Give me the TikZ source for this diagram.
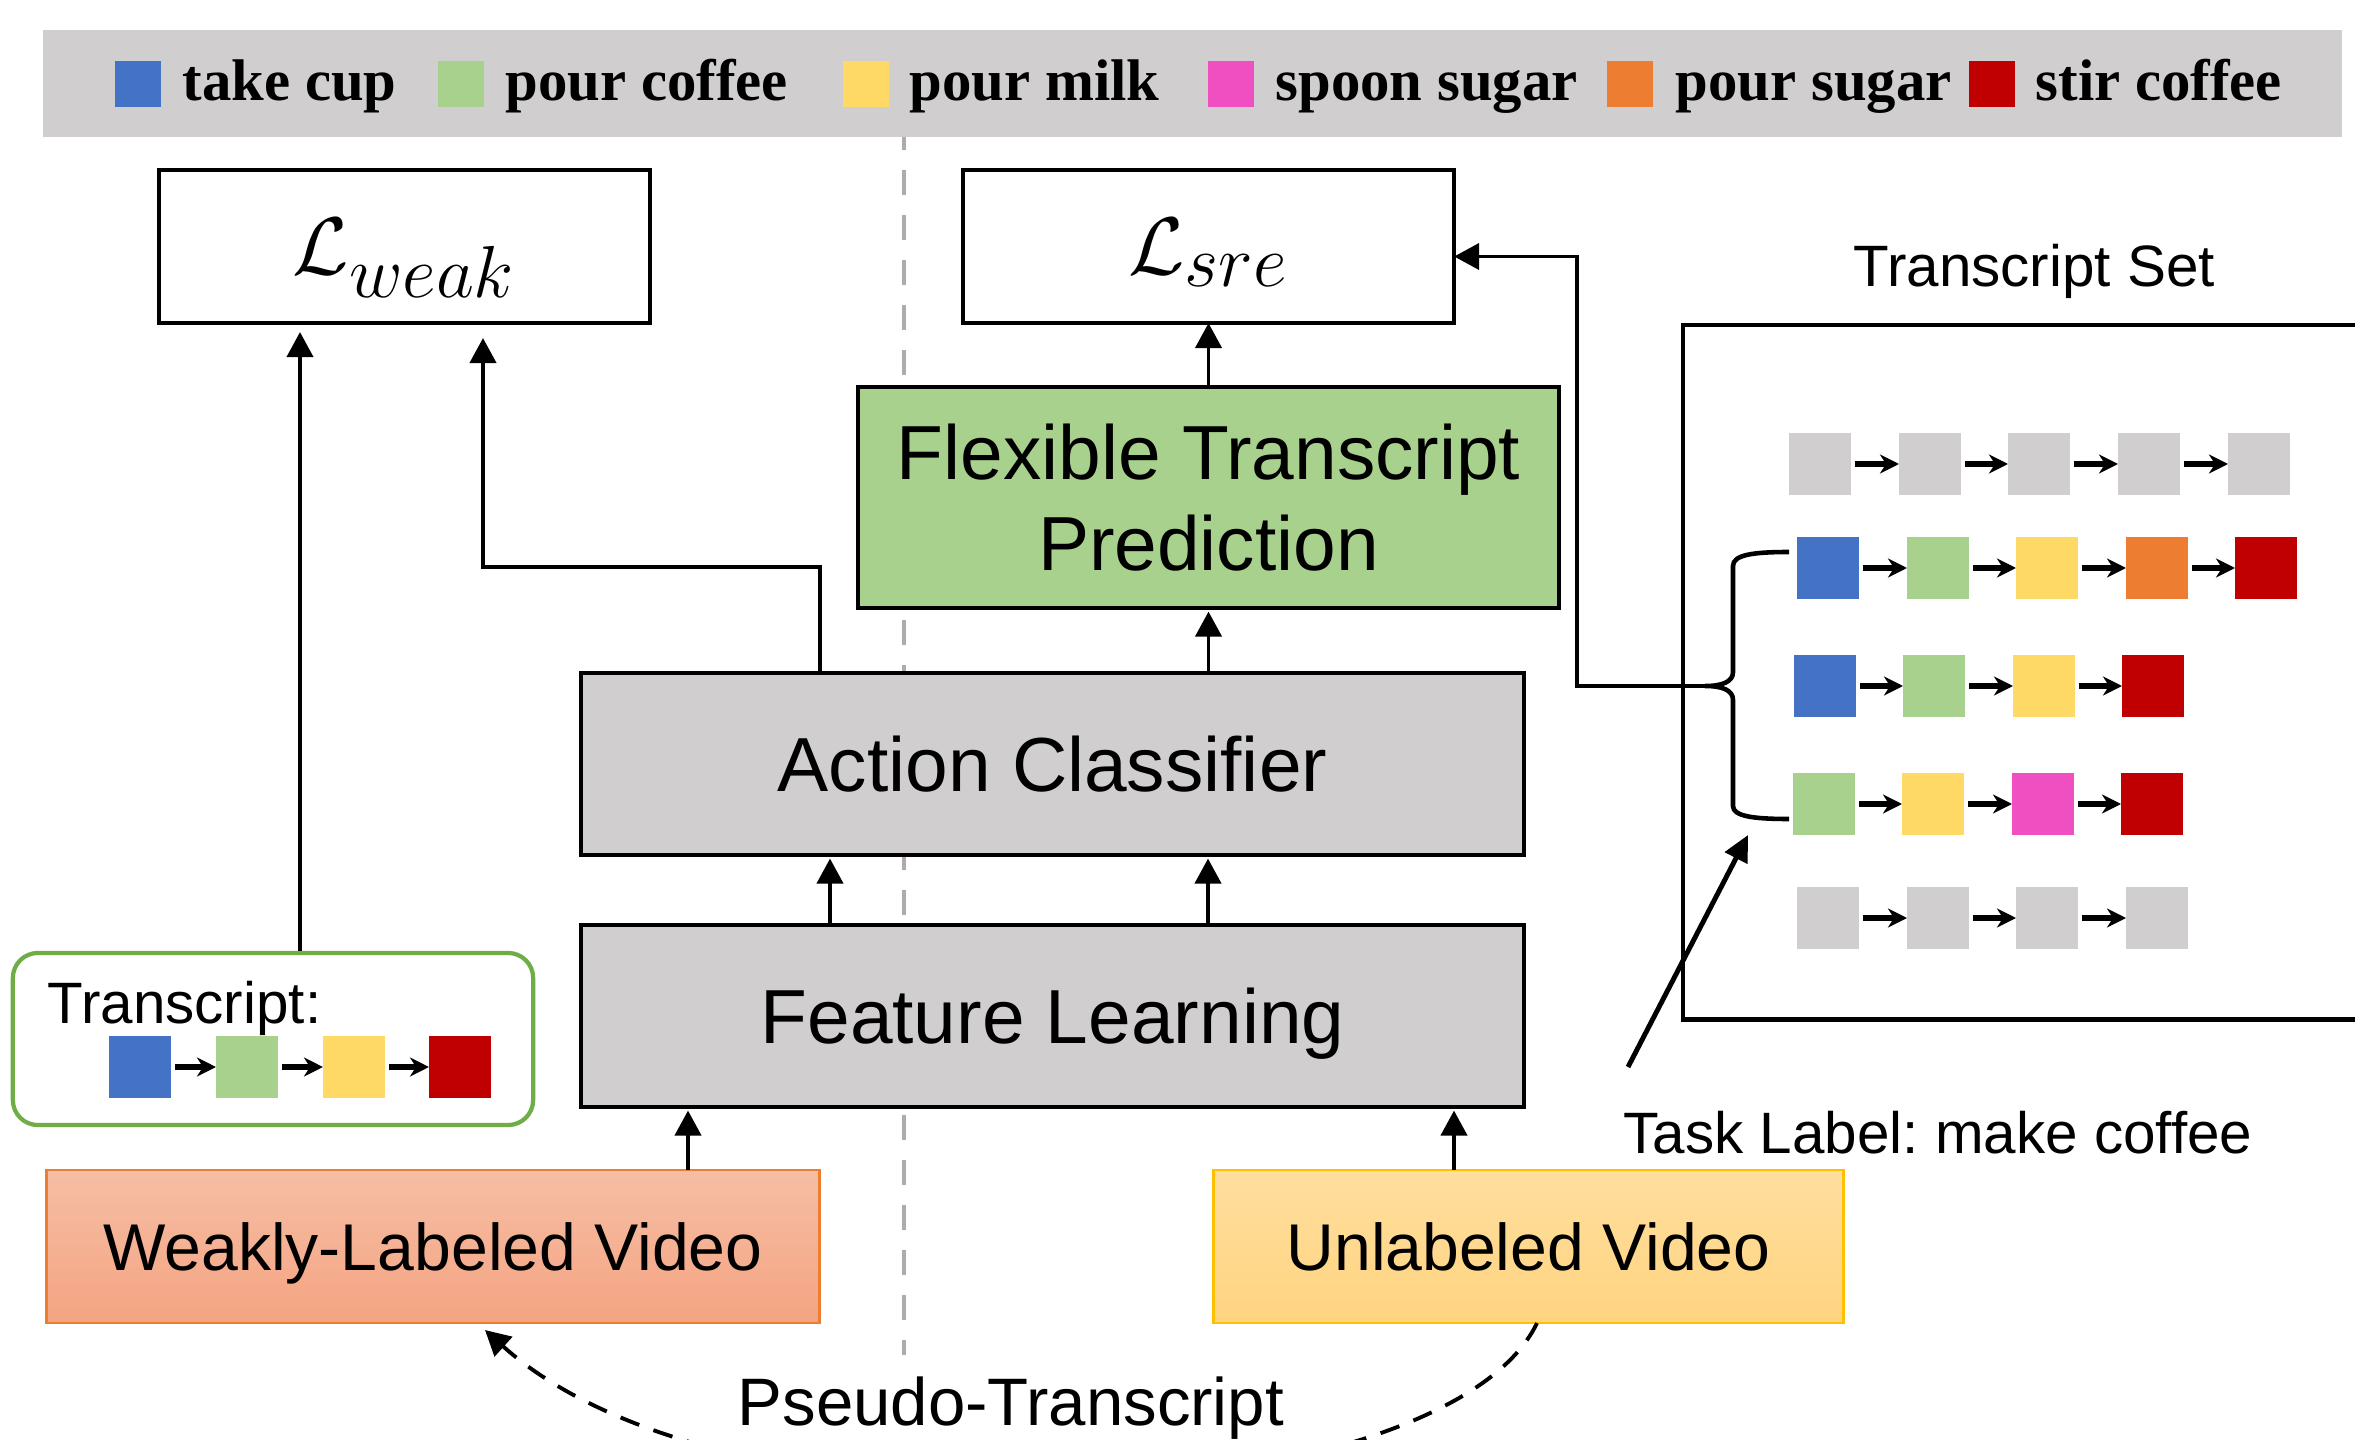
\documentclass[tikz,border=0pt]{standalone}
\usepackage{fontspec}
\setmainfont{Liberation Sans}
\newfontfamily\legfont{Liberation Serif}
\usetikzlibrary{arrows.meta,calc}
\frenchspacing
\definecolor{gfill}{HTML}{D0CECE}
\definecolor{cblue}{HTML}{4472C4}
\definecolor{cgreen}{HTML}{A9D18E}
\definecolor{cyellow}{HTML}{FFD966}
\definecolor{cpink}{HTML}{F04FC2}
\definecolor{corange}{HTML}{ED7D31}
\definecolor{cred}{HTML}{C00000}
\definecolor{tgreen}{HTML}{70AD47}
\definecolor{sepgray}{HTML}{AFABAB}
\definecolor{gold}{HTML}{FFC000}
\definecolor{wtop}{RGB}{246,190,165}
\definecolor{wbot}{RGB}{244,164,129}
\definecolor{utop}{RGB}{255,222,158}
\definecolor{ubot}{RGB}{255,212,128}
\newcommand{\lossname}[1]{\scalebox{1.12}{$\mathcal{L}_{\scalebox{1.3}{$\scriptstyle #1$}}$}}
\begin{document}
\begin{tikzpicture}[x=0.01cm,y=-0.01cm,
  box/.style={draw=black, line width=1.2pt, inner sep=0pt, outer sep=0pt, align=center, text depth=0pt},
  bigfont/.style={font=\fontsize{21.8}{26}\selectfont},
  vidfont/.style={font=\fontsize{18.8}{22}\selectfont},
  labfont/.style={font=\fontsize{16.6}{20}\selectfont},
  legtext/.style={anchor=base west, inner sep=0pt, font=\legfont\bfseries\fontsize{16.7}{20}\selectfont},
  lsq/.style={minimum size=0.46cm, inner sep=0pt, outer sep=0pt},
  sq/.style={minimum size=0.62cm, inner sep=0pt, outer sep=0pt},
  arr/.style={line width=1.1pt, -{Triangle[width=7.4pt,length=7.1pt]}},
  sarr/.style={line width=1.9pt, -{Stealth[width=5.4pt,length=5.4pt,inset=1.7pt]}, shorten <=1.2pt},
  sepline/.style={sepgray, line width=1.3pt, dash pattern=on 7.1pt off 5.7pt}
]
\useasboundingbox (0,0) rectangle (2355,1440);
\clip (0,0) rectangle (2355,1440);
\fill[white] (0,0) rectangle (2355,1440);

% separator
\coordinate (sepA) at (904,125);
\coordinate (sepB) at (904,1355);
\draw[sepline] (sepA) -- (sepB);

% legend
\node[fill=gfill, minimum width=22.97cm, minimum height=1.07cm, inner sep=0pt] (bar) at (1192.5,83.5) {};
\node[lsq,fill=cblue] (k1) at (138,84) {};
\node[legtext] (t1) at (182,101) {take cup};
\node[lsq,fill=cgreen] (k2) at (461,84) {};
\node[legtext] (t2) at (505,101) {pour coffee};
\node[lsq,fill=cyellow] (k3) at (866,84) {};
\node[legtext] (t3) at (909,101) {pour milk};
\node[lsq,fill=cpink] (k4) at (1231,84) {};
\node[legtext] (t4) at (1275,101) {spoon sugar};
\node[lsq,fill=corange] (k5) at (1630,84) {};
\node[legtext] (t5) at (1675,101) {pour sugar};
\node[lsq,fill=cred] (k6) at (1992,84) {};
\node[legtext] (t6) at (2035,101) {stir coffee};

% main boxes
\node[box, fill=white, minimum width=4.91cm, minimum height=1.53cm] (lweak) at (404.5,246.5) {\fontsize{22}{26}\selectfont\lossname{weak}};
\node[box, fill=white, minimum width=4.91cm, minimum height=1.53cm] (lsre) at (1208.5,246.5) {\fontsize{22}{26}\selectfont\lossname{sre}};
\node[box, bigfont, fill=cgreen, minimum width=7.01cm, minimum height=2.21cm] (ftp) at (1208.5,497.5) {Flexible Transcript\\Prediction};
\node[box, bigfont, fill=gfill, minimum width=9.43cm, minimum height=1.82cm] (ac) at (1052.5,764) {Action Classifier};
\node[box, bigfont, fill=gfill, minimum width=9.43cm, minimum height=1.82cm] (fl) at (1052.5,1016) {Feature Learning};
\node[box, vidfont, draw=corange, line width=0.8pt, top color=wtop, bottom color=wbot, minimum width=7.72cm, minimum height=1.53cm] (wl) at (433,1246.5) {Weakly-Labeled Video};
\node[box, vidfont, draw=gold, line width=0.8pt, top color=utop, bottom color=ubot, minimum width=6.29cm, minimum height=1.53cm] (ul) at (1528.5,1246.5) {Unlabeled Video};

% transcript box
\node[draw=tgreen, line width=1.2pt, rounded corners=0.25cm, minimum width=5.20cm, minimum height=1.72cm, inner sep=0pt] (tbox) at (273,1039) {};
\node[labfont, anchor=base west, inner sep=0pt] (tlab) at (47,1023) {Transcript:};
\node[sq, fill=cblue] (ts1) at (140,1067) {};
\node[sq, fill=cgreen] (ts2) at (247,1067) {};
\node[sq, fill=cyellow] (ts3) at (354,1067) {};
\node[sq, fill=cred] (ts4) at (460,1067) {};
\foreach \i in {1,2,3} {\pgfmathtruncatemacro{\j}{\i+1}\draw[sarr] (ts\i) -- (ts\j);}

% transcript set
\node[labfont, anchor=base west, inner sep=0pt] (tsl) at (1853,287) {Transcript Set};
\node[draw=black, line width=1.2pt, anchor=north west, minimum width=8cm, minimum height=6.94cm, inner sep=0pt] (tset) at (1681,323) {};

\foreach \i/\x in {1/1820,2/1930,3/2039,4/2149,5/2259} \node[sq, fill=gfill] (ra\i) at (\x,464) {};
\foreach \i/\x/\c in {1/1828/cblue,2/1938/cgreen,3/2047/cyellow,4/2157/corange,5/2266/cred} \node[sq, fill=\c] (rb\i) at (\x,568) {};
\foreach \i/\x/\c in {1/1825/cblue,2/1934/cgreen,3/2044/cyellow,4/2153/cred} \node[sq, fill=\c] (rc\i) at (\x,686) {};
\foreach \i/\x/\c in {1/1824/cgreen,2/1933/cyellow,3/2043/cpink,4/2152/cred} \node[sq, fill=\c] (rd\i) at (\x,804) {};
\foreach \i/\x in {1/1828,2/1938,3/2047,4/2157} \node[sq, fill=gfill] (re\i) at (\x,918) {};
\foreach \i in {1,2,3,4} {\pgfmathtruncatemacro{\j}{\i+1}\draw[sarr] (ra\i) -- (ra\j); \draw[sarr] (rb\i) -- (rb\j);}
\foreach \i in {1,2,3} {\pgfmathtruncatemacro{\j}{\i+1}\draw[sarr] (rc\i) -- (rc\j); \draw[sarr] (rd\i) -- (rd\j); \draw[sarr] (re\i) -- (re\j);}

% brace
\coordinate (bt) at (1705,686);
\draw[line width=1.3pt] (1789,552) .. controls (1752,552) and (1733,555) .. (1733,566) -- (1733,672) .. controls (1733,682) and (1722,686) .. (bt) .. controls (1722,686) and (1733,690) .. (1733,700) -- (1733,806) .. controls (1733,816) and (1752,819) .. (1789,819);
\draw[arr] (bt) -| ($(lsre.east)+(123,10)$) -- ($(lsre.east)+(0,10)$);

% task label
\node[labfont, anchor=base west, inner sep=0pt] (task) at (1623,1153) {Task Label: make coffee};
\coordinate (p0) at (1628,1067);
\coordinate (p1) at (1748,835);
\draw[line width=1.4pt, -{Triangle[width=7pt,length=7.4pt]}] (p0) -- (p1);

% arrows main
\coordinate (w1) at ($(wl.north)+(255,0)$);
\draw[arr, shorten >=1pt] (w1) -- (w1 |- fl.south);
\coordinate (u1) at ($(ul.north)+(-74.5,0)$);
\draw[arr, shorten >=1pt] (u1) -- (u1 |- fl.south);
\coordinate (f1) at ($(fl.north)+(-222.5,0)$);
\coordinate (f2) at ($(fl.north)+(155.5,0)$);
\draw[arr, shorten >=1pt] (f1) -- (f1 |- ac.south);
\draw[arr, shorten >=1pt] (f2) -- (f2 |- ac.south);
\draw[arr, shorten >=1pt] (ac.north -| ftp.south) -- (ftp.south);
\draw[arr] (ftp.north) -- (lsre.south);
\coordinate (e1) at ($(ac.north)+(-232.5,0)$);
\coordinate (e2) at ($(lweak.south)+(78.5,15)$);
\draw[arr] (e1) -- ++(0,-106) -| (e2);
\coordinate (tb1) at ($(tbox.north)+(27,0)$);
\draw[arr] (tb1) -- ($(lweak.south)+(-104.5,9)$);

% pseudo transcript
\node[font=\fontsize{19.1}{23}\selectfont, anchor=base west, inner sep=0pt] (pseudo) at (737,1425) {Pseudo-Transcript};
\coordinate (d0) at ($(ul.south)+(8.5,0)$);
\coordinate (d1) at ($(wl.south)+(52,7)$);
\draw[line width=1.1pt, dash pattern=on 5.7pt off 4.3pt, -{Triangle[width=7.4pt,length=7.1pt]}] (d0) .. controls (1445,1515) and (735,1555) .. (d1);
\end{tikzpicture}
\end{document}
